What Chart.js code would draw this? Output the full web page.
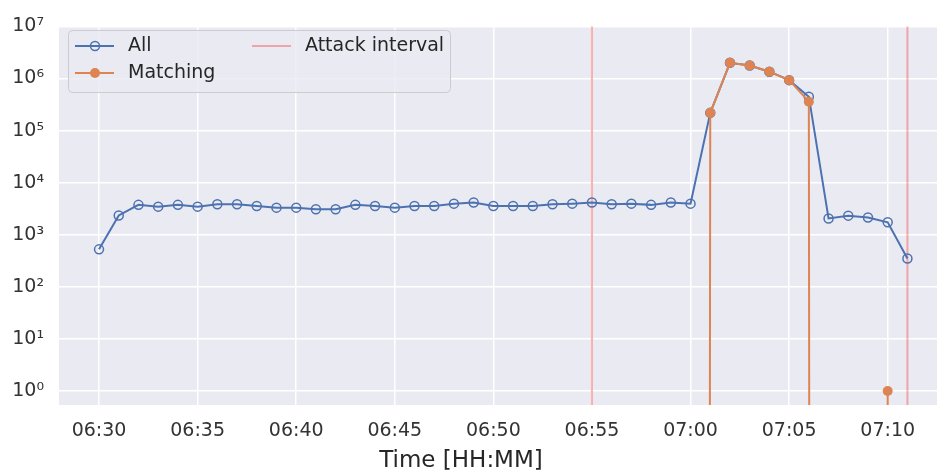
<!DOCTYPE html>
<html>
<head>
<meta charset="utf-8">
<script src="https://cdn.jsdelivr.net/npm/chart.js@4"></script>
<style>
  body { margin: 0; background: #fff; }
</style>
</head>
<body>
<canvas id="myChart" width="937" height="474"></canvas>
<script>
// minutes, one point per minute
const times = [
    '06:30', '06:31', '06:32', '06:33', '06:34', '06:35', '06:36', '06:37', '06:38', '06:39',
    '06:40', '06:41', '06:42', '06:43', '06:44', '06:45', '06:46', '06:47', '06:48', '06:49',
    '06:50', '06:51', '06:52', '06:53', '06:54', '06:55', '06:56', '06:57', '06:58', '06:59',
    '07:00', '07:01', '07:02', '07:03', '07:04', '07:05', '07:06', '07:07', '07:08', '07:09',
    '07:10', '07:11'
];
const allCounts = [
    525, 2350, 3750, 3470, 3750, 3470, 3850, 3850, 3560, 3320,
    3320, 3100, 3100, 3750, 3560, 3320, 3560, 3560, 3960, 4150,
    3560, 3560, 3560, 3850, 3960, 4150, 3850, 3960, 3750, 4150,
    3960, 219000, 2000000, 1780000, 1350000, 930000, 447000, 2060, 2330, 2150,
    1740, 350
];
const matchingCounts = [
    0, 0, 0, 0, 0, 0, 0, 0, 0, 0,
    0, 0, 0, 0, 0, 0, 0, 0, 0, 0,
    0, 0, 0, 0, 0, 0, 0, 0, 0, 0,
    0, 219000, 2000000, 1780000, 1350000, 930000, 359000, 0, 0, 0,
    1, 0
];
const attackTimes = ['06:55', '07:11'];
const xTickLabels = ['06:30', '06:35', '06:40', '06:45', '06:50', '06:55', '07:00', '07:05', '07:10'];
const yTicks = [1, 10, 100, 1000, 10000, 100000, 1000000, 10000000];
const yTickLabels = ['10⁰', '10¹', '10²', '10³', '10⁴', '10⁵', '10⁶', '10⁷'];

const FONT = 'DejaVu Sans';
const BLUE = '#4C72B0';
const ORANGE = '#DD8452';
const ATTACK = 'rgba(255, 0, 0, 0.3)';

// minutes since 06:30
const toMin = t => {
    const [h, m] = t.split(':').map(Number);
    return h * 60 + m - (6 * 60 + 30);
};
const toLabel = v => {
    const total = 6 * 60 + 30 + v;
    const h = Math.floor(total / 60), m = total % 60;
    return String(h).padStart(2, '0') + ':' + String(m).padStart(2, '0');
};
// zero can't sit on a log axis: push it far below the view, like matplotlib's clip
const logClip = v => v > 0 ? v : 1e-300;

const attackSets = attackTimes.map((t, i) => ({
    label: i === 0 ? 'Attack interval' : '_nolegend_',
    data: [{x: toMin(t), y: 1e-300}, {x: toMin(t), y: 1e300}],
    borderColor: ATTACK,
    borderWidth: 2,
    pointRadius: 0,
    order: 3,
}));

const legendBox = {
    id: 'legendBox',
    afterDraw(chart) {
        const c = chart.ctx;
        c.save();
        c.beginPath();
        c.roundRect(68.5, 30.5, 382, 62, 4);
        c.fillStyle = 'rgba(234, 234, 242, 0.8)';
        c.fill();
        c.strokeStyle = '#cccccc';
        c.lineWidth = 1;
        c.stroke();

        const rows = [
            {x: 75, y: 46, color: BLUE, marker: 'open', text: 'All'},
            {x: 75, y: 73, color: ORANGE, marker: 'filled', text: 'Matching'},
            {x: 252, y: 46, color: ATTACK, marker: null, text: 'Attack interval'},
        ];
        rows.forEach(r => {
            c.beginPath();
            c.moveTo(r.x, r.y);
            c.lineTo(r.x + 39, r.y);
            c.strokeStyle = r.color;
            c.lineWidth = 2;
            c.stroke();
            if (r.marker) {
                c.beginPath();
                c.arc(r.x + 20, r.y, r.marker === 'open' ? 4.5 : 5, 0, Math.PI * 2);
                if (r.marker === 'filled') {
                    c.fillStyle = r.color;
                    c.fill();
                } else {
                    c.lineWidth = 1.5;
                    c.stroke();
                }
            }
            c.fillStyle = '#262626';
            c.font = '19px "' + FONT + '"';
            c.textBaseline = 'middle';
            c.fillText(r.text, r.x + 53, r.y);
        });

        // x axis title, placed as in the original figure
        c.font = '23px "' + FONT + '"';
        c.textAlign = 'center';
        c.textBaseline = 'middle';
        c.fillText('Time [HH:MM]', 461, 461);
        c.restore();
    }
};

const plotBg = {
    id: 'plotBg',
    beforeDraw(chart) {
        const a = chart.chartArea;
        chart.ctx.save();
        chart.ctx.fillStyle = '#EAEAF2';
        chart.ctx.fillRect(a.left, a.top, a.right - a.left, a.bottom - a.top);
        chart.ctx.restore();
    }
};

const ctx = document.getElementById('myChart').getContext('2d');
const myChart = new Chart(ctx, {
    type: 'line',
    data: {
        datasets: [
            {
                label: 'All',
                data: times.map((t, i) => ({x: toMin(t), y: logClip(allCounts[i])})),
                borderColor: BLUE,
                borderWidth: 2,
                pointRadius: 4.5,
                pointBorderWidth: 1.5,
                pointBackgroundColor: 'rgba(0,0,0,0)',
                pointBorderColor: BLUE,
                order: 2,
            },
            {
                label: 'Matching',
                data: times.map((t, i) => ({x: toMin(t), y: logClip(matchingCounts[i])})),
                borderColor: ORANGE,
                borderWidth: 2,
                pointRadius: 5,
                pointBorderWidth: 0,
                pointBackgroundColor: ORANGE,
                order: 1,
            },
            ...attackSets,
        ],
    },
    plugins: [plotBg, legendBox],
    options: {
        responsive: false,
        animation: false,
        layout: { autoPadding: false, padding: { top: 21, right: 0, left: 0, bottom: 0 } },
        plugins: {
            legend: { display: false },
            tooltip: { enabled: false },
        },
        scales: {
            x: {
                type: 'linear',
                min: -2.03,
                max: 42.5,
                afterBuildTicks: axis => {
                    axis.ticks = xTickLabels.map(t => ({value: toMin(t)}));
                },
                afterFit: axis => { axis.height = 69; },
                grid: { color: '#ffffff', lineWidth: 1.5, drawTicks: false },
                border: { display: false },
                ticks: {
                    padding: 15,
                    color: '#333333',
                    font: { family: FONT, size: 19 },
                    maxRotation: 0,
                    callback: v => toLabel(v),
                },
            },
            y: {
                type: 'logarithmic',
                min: 0.54,
                max: 1e7,
                afterBuildTicks: axis => {
                    axis.ticks = yTicks.map(v => ({value: v}));
                },
                afterFit: axis => { axis.width = 59; },
                grid: { color: '#ffffff', lineWidth: 1.5, drawTicks: false },
                border: { display: false },
                ticks: {
                    padding: 15,
                    color: '#333333',
                    font: { family: FONT, size: 19 },
                    callback: v => yTickLabels[yTicks.indexOf(v)],
                },
            },
        },
    },
});
</script>
</body>
</html>
